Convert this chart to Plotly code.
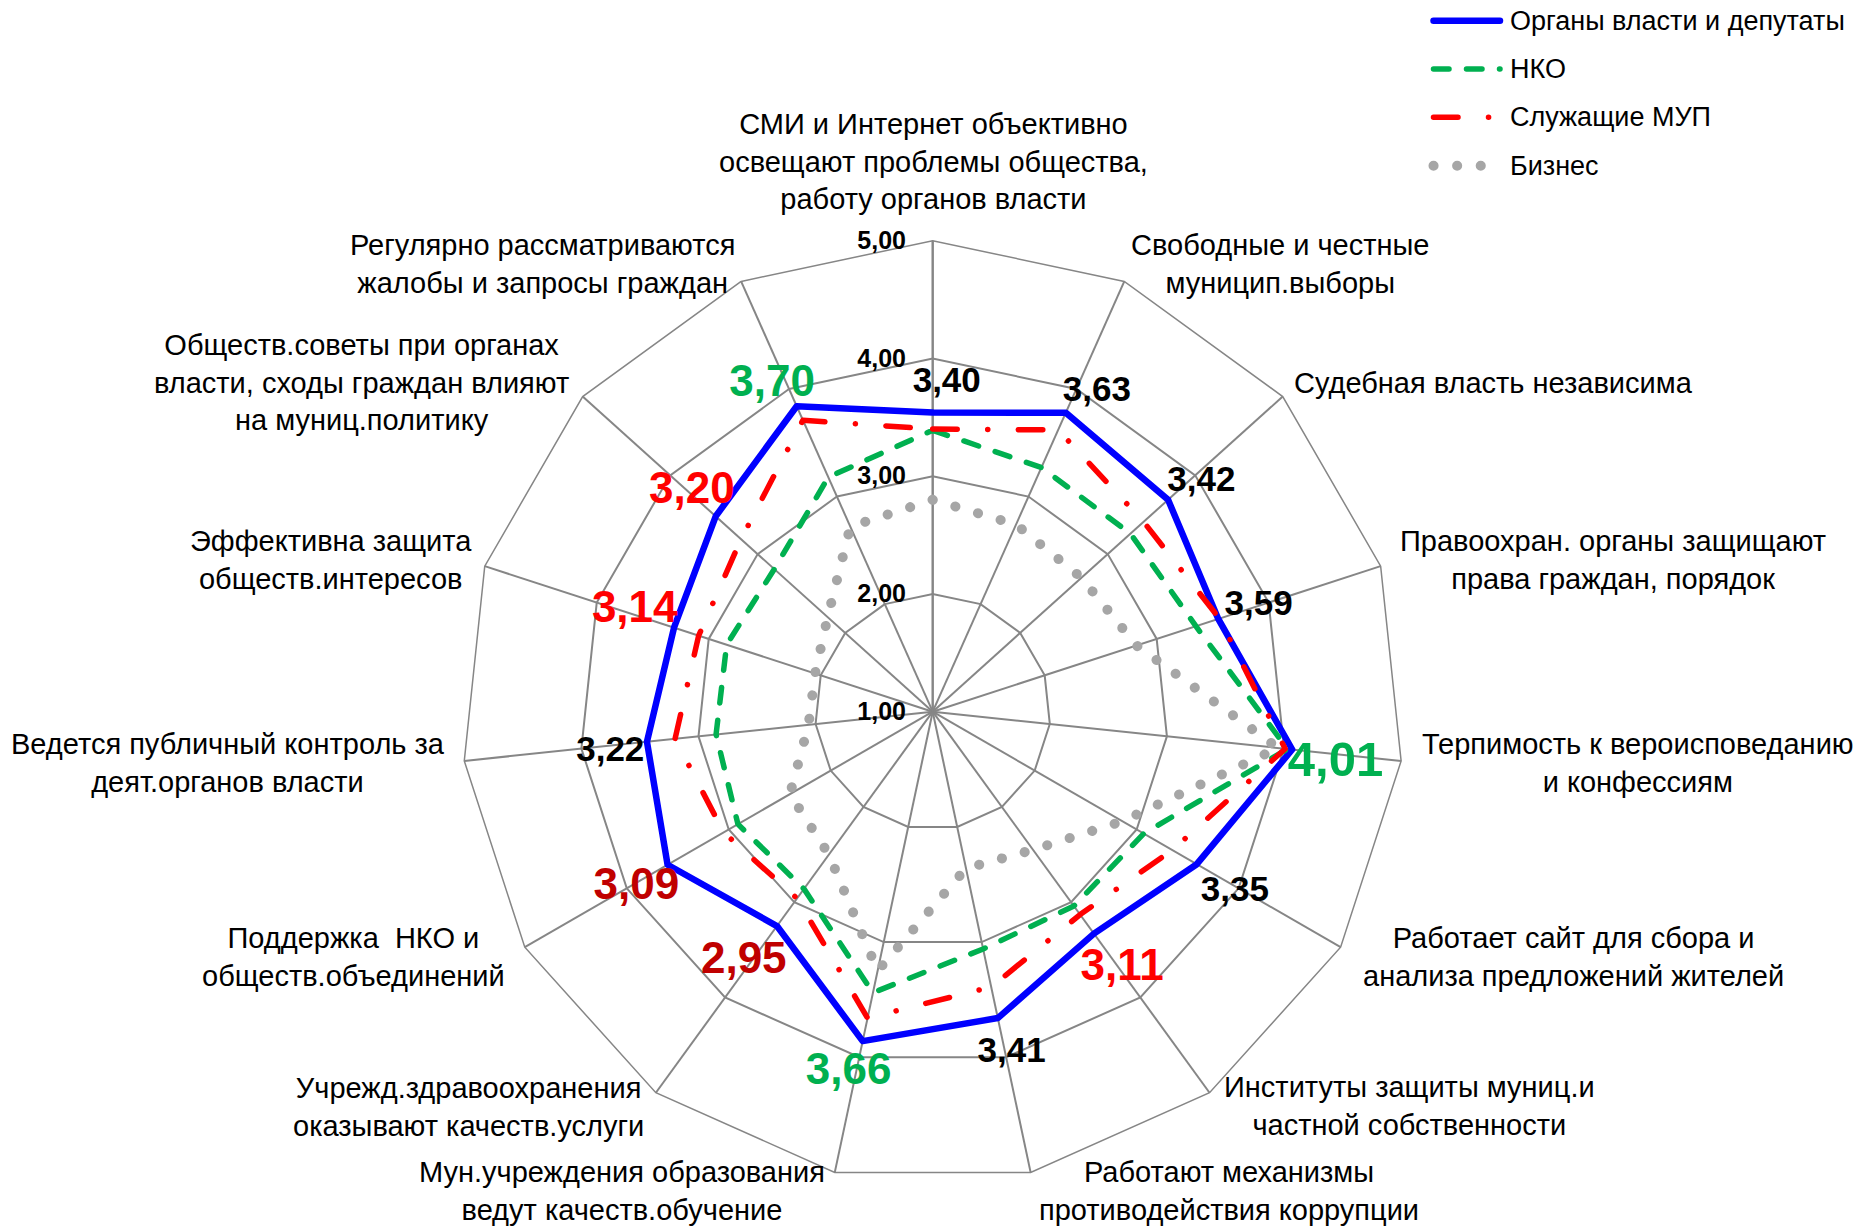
import plotly.graph_objects as go

W, H = 1864, 1227

categories = [
    "СМИ и Интернет объективно<br>освещают проблемы общества,<br>работу органов власти",
    "Свободные и честные<br>муницип.выборы",
    "Судебная власть независима",
    "Правоохран. органы защищают<br>права граждан, порядок",
    "Терпимость к вероисповеданию<br>и конфессиям",
    "Работает сайт для сбора и<br>анализа предложений жителей",
    "Институты защиты муниц.и<br>частной собственности",
    "Работают механизмы<br>противодействия коррупции",
    "Мун.учреждения образования<br>ведут качеств.обучение",
    "Учрежд.здравоохранения<br>оказывают качеств.услуги",
    "Поддержка  НКО и<br>обществ.объединений",
    "Ведется публичный контроль за<br>деят.органов власти",
    "Эффективна защита<br>обществ.интересов",
    "Обществ.советы при органах<br>власти, сходы граждан влияют<br>на муниц.политику",
    "Регулярно рассматриваются<br>жалобы и запросы граждан",
]

series_names = ["Органы власти и депутаты", "НКО", "Служащие МУП", "Бизнес"]
vlast = [3.54, 3.78, 3.69, 3.55, 4.07, 3.59, 3.33, 3.66, 3.86, 3.25, 3.60, 3.44, 3.31, 3.48, 3.84]
nko = [3.39, 3.27, 3.26, 3.35, 4.03, 3.07, 3.04, 3.06, 3.44, 2.86, 2.91, 2.85, 2.84, 2.81, 3.18]
mup = [3.40, 3.62, 3.41, 3.56, 4.01, 3.35, 3.13, 3.39, 3.66, 2.96, 3.05, 3.20, 3.09, 3.19, 3.71]
biznes = [2.80, 2.74, 2.70, 2.82, 3.95, 2.86, 2.45, 2.36, 3.25, 2.50, 2.40, 2.06, 2.05, 2.20, 2.72]

avg_labels = ["3,40", "3,63", "3,42", "3,59", "4,01", "3,35", "3,11", "3,41",
              "3,66", "2,95", "3,09", "3,22", "3,14", "3,20", "3,70"]

tick_vals = [1, 2, 3, 4, 5]
tick_text = ["1,00", "2,00", "3,00", "4,00", "5,00"]

# ---- styling / positions ----
FONT = "Liberation Sans"
GRID = "#868686"
BLUE, GREEN, RED, GREY = "#0000FF", "#00B050", "#FF0000", "#A6A6A6"
DARKRED = "#C00000"

# value-label placement (radius in axis units, angle in degrees clockwise from top)
label_r = [3.79, 4.05, 4.00, 3.91, 4.45, 3.99, 3.71, 3.98, 4.15, 3.66, 3.93, 3.76, 3.67, 3.77, 4.09]
label_theta = [2.45, 27.2, 49.5, 72.0, 97.4, 120.9, 143.6, 167.0, 193.1, 217.1, 239.2, 262.8,
               288.6, 312.4, 333.8]
label_colors = ["black", "black", "black", "black", GREEN, "black", RED, "black",
                GREEN, DARKRED, DARKRED, "black", RED, RED, GREEN]
label_sizes = [35, 35, 35, 35, 49, 35, 44, 35, 44, 44, 44, 35, 44, 44, 44]

# category label block centres in pixels
cat_pos = [(933, 161), (1280, 264), (1493, 383), (1613, 560), (1638, 763),
           (1573, 957), (1409, 1106), (1229, 1191), (622, 1191), (468, 1107),
           (353, 957), (228, 763), (331, 560), (361, 383), (542, 264)]

styles = [
    dict(color=BLUE, width=6.5, dash="solid"),
    dict(color=GREEN, width=5.5, dash="15.5px,17.5px"),
    dict(color=RED, width=5.5, dash="24.5px,30.5px,0.1px,30.5px"),
    dict(color=GREY, width=10, dash="0.1px,23.5px"),
]

fig = go.Figure()
for name, vals, st in zip(series_names, [vlast, nko, mup, biznes], styles):
    fig.add_trace(go.Scatterpolar(
        r=vals + vals[:1], theta=categories + categories[:1],
        mode="lines", name=name, line=st, showlegend=False,
        hoverinfo="skip",
    ))

fig.add_trace(go.Scatterpolar(
    r=label_r, theta=label_theta, thetaunit="degrees", subplot="polar2",
    mode="text",
    text=["<b>%s</b>" % t for t in avg_labels],
    textposition="middle center",
    textfont=dict(family=FONT, color=label_colors, size=label_sizes),
    showlegend=False, hoverinfo="skip",
))

cx, cy, R = 932.7, 711.7, 471.0
domain = dict(x=[(cx - R) / W, (cx + R) / W], y=[(H - cy - R) / H, (H - cy + R) / H])
fig.update_layout(
    width=W, height=H,
    margin=dict(l=0, r=0, t=0, b=0),
    paper_bgcolor="white",
    font=dict(family=FONT, color="black"),
    polar=dict(
        domain=domain,
        gridshape="linear",
        bgcolor="white",
        radialaxis=dict(
            range=[1, 5], tickvals=tick_vals, ticktext=["<b>%s</b>" % t for t in tick_text],
            angle=90, tickangle=90, side="counterclockwise",
            showline=True, linecolor=GRID, linewidth=2,
            gridcolor=GRID, gridwidth=1.5,
            ticks="outside", ticklen=17, tickcolor="rgba(0,0,0,0)",
            tickfont=dict(family=FONT, size=25, color="black"),
            layer="below traces",
        ),
        angularaxis=dict(
            type="category", categoryarray=categories, direction="clockwise",
            rotation=90, showline=True, linecolor=GRID, linewidth=1.5,
            gridcolor=GRID, gridwidth=1.5, ticks="", showticklabels=False,
            layer="below traces",
        ),
    ),
    polar2=dict(
        domain=domain,
        bgcolor="rgba(0,0,0,0)",
        radialaxis=dict(range=[1, 5], visible=False),
        angularaxis=dict(type="linear", direction="clockwise", rotation=90,
                         thetaunit="degrees", visible=False),
    ),
)

annotations = []
for text, (px, py) in zip(categories, cat_pos):
    annotations.append(dict(
        x=px / W, y=1 - py / H, xref="paper", yref="paper", text=text,
        showarrow=False, xanchor="center", yanchor="middle", align="center",
        font=dict(family=FONT, size=29, color="black"),
    ))

# custom legend
leg_rows = [20.7, 69, 117.3, 165.7]
shapes = []
for name, st, py in zip(series_names, styles, leg_rows):
    shapes.append(dict(
        type="line", xref="paper", yref="paper",
        x0=1433.5 / W, x1=1500 / W, y0=1 - py / H, y1=1 - py / H,
        line=dict(color=st["color"], width=st["width"], dash=st["dash"]),
    ))
    annotations.append(dict(
        x=1508 / W, y=1 - py / H, xref="paper", yref="paper", text=name,
        showarrow=False, xanchor="left", yanchor="middle",
        font=dict(family=FONT, size=27, color="black"),
    ))

fig.update_layout(annotations=annotations, shapes=shapes)

css = ("body { margin: 0 !important; } "
       ".js-line, .shapelayer path { stroke-linecap: round !important; stroke-linejoin: round; }")
post = "var s=document.createElement('style');s.innerHTML='" + css + "';document.head.appendChild(s);"
fig.write_html("out.html", post_script=post, config={"displayModeBar": False})
